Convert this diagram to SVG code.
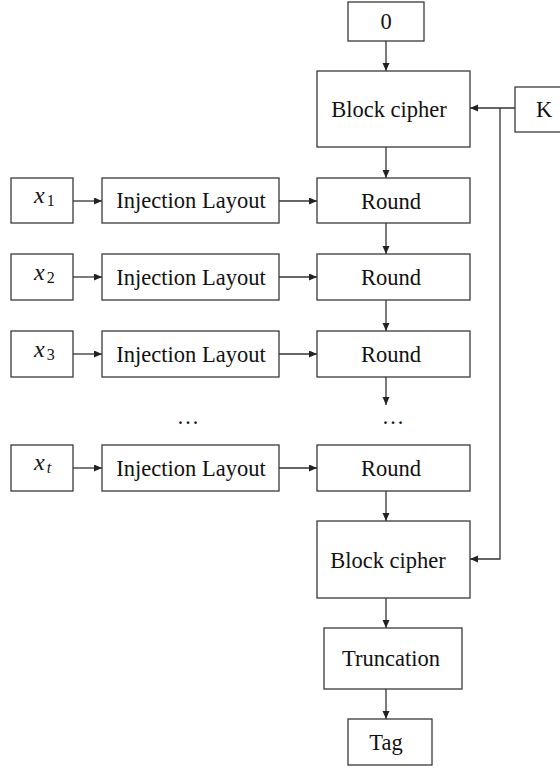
<svg xmlns="http://www.w3.org/2000/svg" width="560" height="769" viewBox="0 0 560 769">
<defs>
<marker id="ah" markerUnits="userSpaceOnUse" markerWidth="9" markerHeight="8" refX="8" refY="3.5" orient="auto">
<path d="M0,0 L8,3.5 L0,7 z" fill="#222"/>
</marker>
<style>
.box{fill:#fff;stroke:#3a3a3a;stroke-width:1.3}
.t{font-family:"Liberation Serif","Times New Roman",serif;font-size:22.5px;fill:#111;text-anchor:middle}
.m{font-family:"Liberation Serif","Times New Roman",serif;font-size:24px;font-style:italic;fill:#111}
.s{font-family:"Liberation Serif","Times New Roman",serif;font-size:16px;font-style:normal}
.si{font-family:"Liberation Serif","Times New Roman",serif;font-size:16px;font-style:italic}
.ca{fill:none;stroke:#333;stroke-width:1.3;marker-end:url(#ah)}
</style>
</defs>
<rect width="560" height="769" fill="#fff"/>
<g id="connectors">
<line class="ca" x1="386" y1="41" x2="386" y2="71"/>
<line class="ca" x1="386" y1="147" x2="386" y2="178"/>
<line class="ca" x1="386" y1="223" x2="386" y2="254"/>
<line class="ca" x1="386" y1="300" x2="386" y2="331"/>
<line class="ca" x1="386" y1="377" x2="386" y2="405"/>
<line class="ca" x1="386" y1="491" x2="386" y2="521"/>
<line class="ca" x1="386" y1="598" x2="386" y2="628"/>
<line class="ca" x1="386" y1="689" x2="386" y2="719"/>
<line class="ca" x1="515" y1="108" x2="470" y2="108"/>
<polyline class="ca" points="500,108 500,559 470,559"/>
<line class="ca" x1="73" y1="201" x2="102" y2="201"/>
<line class="ca" x1="73" y1="277" x2="102" y2="277"/>
<line class="ca" x1="73" y1="354" x2="102" y2="354"/>
<line class="ca" x1="73" y1="468" x2="102" y2="468"/>
<line class="ca" x1="279" y1="201" x2="317" y2="201"/>
<line class="ca" x1="279" y1="277" x2="317" y2="277"/>
<line class="ca" x1="279" y1="354" x2="317" y2="354"/>
<line class="ca" x1="279" y1="468" x2="317" y2="468"/>
</g>
<g id="zero"><rect class="box" x="348" y="2" width="76" height="39"/><text class="t" x="386" y="29">0</text></g>
<g id="bc1"><rect class="box" x="317" y="71" width="153" height="76"/><text class="t" x="389" y="117">Block cipher</text></g>
<g id="key"><rect class="box" x="515" y="87" width="50" height="45"/><text class="t" x="544" y="117">K</text></g>
<g id="x1"><rect class="box" x="11" y="178" width="62" height="45"/><text class="m" x="34" y="203">x<tspan class="s" dx="2" dy="3">1</tspan></text></g>
<g id="il1"><rect class="box" x="102" y="178" width="177" height="45"/><text class="t" x="191" y="208">Injection Layout</text></g>
<g id="r1"><rect class="box" x="317" y="178" width="153" height="45"/><text class="t" x="391" y="209">Round</text></g>
<g id="x2"><rect class="box" x="11" y="254" width="62" height="46"/><text class="m" x="34" y="279.5">x<tspan class="s" dx="2" dy="3">2</tspan></text></g>
<g id="il2"><rect class="box" x="102" y="254" width="177" height="46"/><text class="t" x="191" y="285">Injection Layout</text></g>
<g id="r2"><rect class="box" x="317" y="254" width="153" height="46"/><text class="t" x="391" y="285">Round</text></g>
<g id="x3"><rect class="box" x="11" y="331" width="62" height="46"/><text class="m" x="34" y="356.5">x<tspan class="s" dx="2" dy="3">3</tspan></text></g>
<g id="il3"><rect class="box" x="102" y="331" width="177" height="46"/><text class="t" x="191" y="362">Injection Layout</text></g>
<g id="r3"><rect class="box" x="317" y="331" width="153" height="46"/><text class="t" x="391" y="362">Round</text></g>
<g id="dots"><text class="t" x="188" y="424">…</text><text class="t" x="393" y="424">…</text></g>
<g id="xt"><rect class="box" x="11" y="445" width="62" height="46"/><text class="m" x="34" y="470">x<tspan class="si" dx="2" dy="3">t</tspan></text></g>
<g id="ilt"><rect class="box" x="102" y="445" width="177" height="46"/><text class="t" x="191" y="476">Injection Layout</text></g>
<g id="rt"><rect class="box" x="317" y="445" width="153" height="46"/><text class="t" x="391" y="476">Round</text></g>
<g id="bc2"><rect class="box" x="317" y="521" width="153" height="77"/><text class="t" x="388" y="568">Block cipher</text></g>
<g id="trunc"><rect class="box" x="324" y="628" width="138" height="61"/><text class="t" x="391" y="666">Truncation</text></g>
<g id="tag"><rect class="box" x="348" y="719" width="84" height="46"/><text class="t" x="386" y="750">Tag</text></g>
</svg>
